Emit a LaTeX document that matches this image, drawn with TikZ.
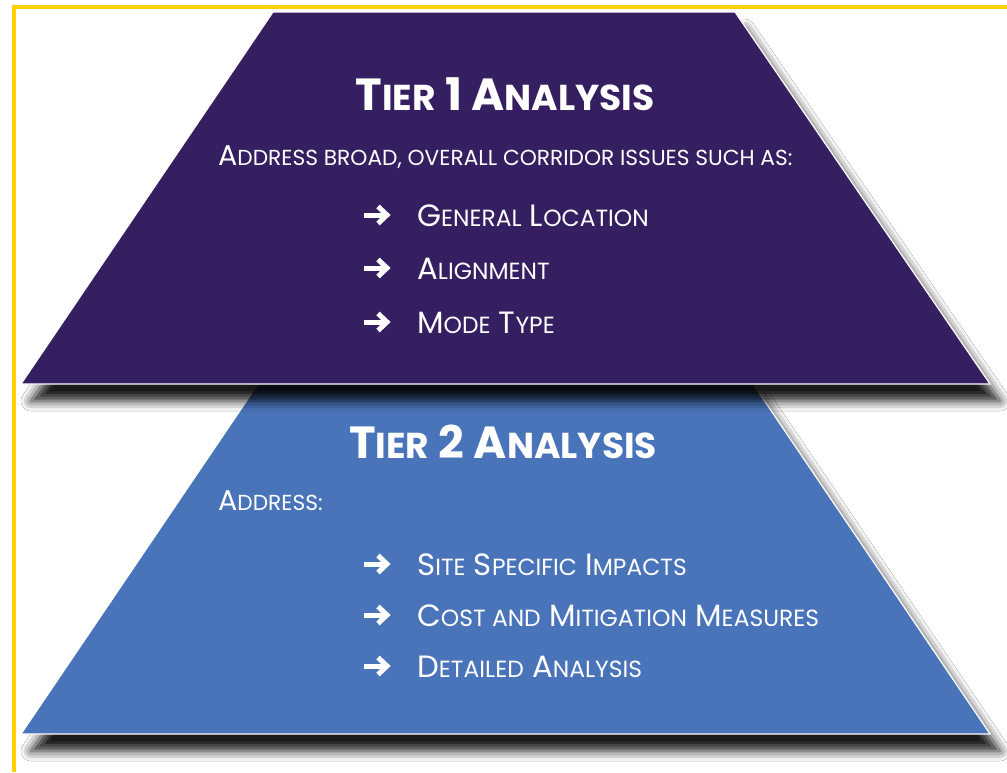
\documentclass[tikz,border=0pt]{standalone}
\usepackage{fontspec}
\setmainfont{Poppins}
\usetikzlibrary{shadows.blur}

\definecolor{tierone}{RGB}{53,31,97}
\definecolor{tiertwo}{RGB}{73,116,185}
\definecolor{frameyellow}{RGB}{255,208,0}

% small capitals, faked
\makeatletter
\newcommand{\sm}[1]{{\fontsize{\the\dimexpr0.76\dimexpr\f@size pt\relax\relax}{\f@baselineskip}\selectfont #1}}
\newcommand{\smt}[1]{{\fontsize{\the\dimexpr0.8\dimexpr\f@size pt\relax\relax}{\f@baselineskip}\selectfont #1}}
\makeatother

\tikzset{pointer/.pic={
  \draw[white,line width=5pt] (0,0) -- (19,0);
  \draw[white,line width=5pt,line join=miter] (14,-8.5) -- (23,0) -- (14,8.5);
}}

\begin{document}
\begin{tikzpicture}[x=1pt,y=-1pt,
  tier/.style={draw=white,line width=1.2pt,
    blur shadow={shadow xshift=10pt,shadow yshift=-17pt,shadow blur radius=10pt,shadow opacity=90}},
  title/.style={text=white,inner sep=0pt,font=\bfseries\fontsize{45}{45}\selectfont},
  lead/.style={text=white,inner sep=0pt,font=\fontsize{28.6}{28.6}\selectfont},
  item/.style={text=white,inner sep=0pt,font=\fontsize{30.8}{30.8}\selectfont}]
\useasboundingbox (0,0) rectangle (1007,772);
\fill[white] (0,0) rectangle (1007,772);
\draw[frameyellow,line width=4pt] (13.5,772) -- (13.5,7) -- (1007,7);

% lower tier first, the upper one casts its shadow on it
\path[tier,fill=tiertwo] (258,384) -- (753,384) -- (990,734) -- (21,734) -- cycle;
\path[tier,fill=tierone] (273,12) -- (735,12) -- (990,384) -- (21,384) -- cycle;

% tier 1
\node[title,anchor=base] (tier1) at (505,110) {T\smt{IER} 1 A\smt{NALYSIS}};
\node[lead,anchor=base west] (scope1) at (218,165) {A\sm{DDRESS BROAD, OVERALL CORRIDOR ISSUES SUCH AS:}};

\pic at (364,215) {pointer};
\node[item,anchor=base west] (i11) at (417,226) {G\sm{ENERAL} L\sm{OCATION}};
\pic at (364,268) {pointer};
\node[item,anchor=base west] (i12) at (417,279) {A\sm{LIGNMENT}};
\pic at (364,322) {pointer};
\node[item,anchor=base west] (i13) at (417,333) {M\sm{ODE} T\sm{YPE}};

% tier 2
\node[title,anchor=base] (tier2) at (503,458) {T\smt{IER} 2 A\smt{NALYSIS}};
\node[lead,anchor=base west] (scope2) at (218,510) {A\sm{DDRESS:}};

\pic at (364,564) {pointer};
\node[item,anchor=base west] (i21) at (417,575) {S\sm{ITE} S\sm{PECIFIC} I\sm{MPACTS}};
\pic at (364,615) {pointer};
\node[item,anchor=base west] (i22) at (417,626) {C\sm{OST AND} M\sm{ITIGATION} M\sm{EASURES}};
\pic at (364,666) {pointer};
\node[item,anchor=base west] (i23) at (417,677) {D\sm{ETAILED} A\sm{NALYSIS}};
\end{tikzpicture}
\end{document}
